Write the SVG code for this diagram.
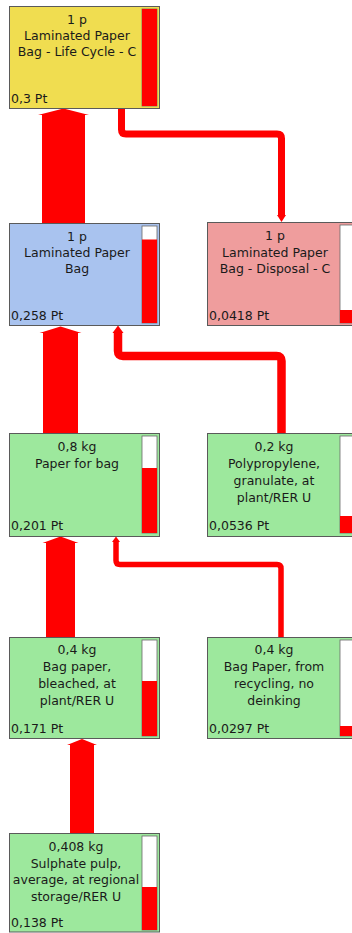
<svg xmlns="http://www.w3.org/2000/svg" width="352" height="933" viewBox="0 0 352 933">
  <style>
    .box { stroke: #5a5a5a; stroke-width: 1; }
    .life { fill: #f0dd50; }
    .assy { fill: #a9c3ef; }
    .disp { fill: #ef9d9d; }
    .proc { fill: #9de89d; }
    .bar { fill: #ffffff; stroke: #6a6a6a; stroke-width: 0.8; }
    .lvl { fill: #ff0000; }
    text { font-family: "DejaVu Sans", Verdana, sans-serif; font-size: 12.5px; fill: #1a1a1a; }
    .c { text-anchor: middle; }
    .flow { fill: #ff0000; }
    .link { fill: none; stroke: #ff0000; stroke-linejoin: round; }
  </style>

  <!-- connectors: thick flows sized by score, thin links with small heads -->
  <g id="connectors">
    <polygon class="flow" points="42,223 42,115 38,115 63.5,108.5 89,115 85,115 85,223"/>
    <polygon class="flow" points="43,433 43,333 39.5,333 60.5,326.5 81.5,333 78,333 78,433"/>
    <polygon class="flow" points="46,637 46,543 42.5,543 60.5,536.5 78.5,543 75,543 75,637"/>
    <polygon class="flow" points="70,833 70,745 67,745 82,739 97,745 94,745 94,833"/>

    <path class="link" stroke-width="7" d="M121.5,108 V129.5 Q121.5,134 126,134 H277 Q281.5,134 281.5,138.5 V216"/>
    <polygon class="flow" points="277,215 286,215 281.5,222"/>

    <path class="link" stroke-width="8.5" d="M281.5,433 V361 Q281.5,356 276.5,356 H123 Q118,356 118,351 V332"/>
    <polygon class="flow" points="112.5,333 123.5,333 118,325.5"/>

    <path class="link" stroke-width="5.5" d="M281,637 V568.5 Q281,564.5 277,564.5 H120 Q116,564.5 116,560.5 V541"/>
    <polygon class="flow" points="112,542 120,542 116,536.5"/>
  </g>

  <g id="life-cycle">
    <rect class="box life" x="9.5" y="6.5" width="150" height="102"/>
    <rect class="bar" x="142" y="9" width="15" height="97"/>
    <rect class="lvl" x="142" y="9" width="15" height="97"/>
    <text class="c" x="77" y="24">1 p</text>
    <text class="c" x="77" y="40">Laminated Paper</text>
    <text class="c" x="77" y="56">Bag - Life Cycle - C</text>
    <text x="11" y="103">0,3 Pt</text>
  </g>

  <g id="paper-bag">
    <rect class="box assy" x="9.5" y="223.5" width="150" height="102"/>
    <rect class="bar" x="142" y="226" width="15" height="97"/>
    <rect class="lvl" x="142" y="239.5" width="15" height="83.5"/>
    <text class="c" x="77" y="241">1 p</text>
    <text class="c" x="77" y="257">Laminated Paper</text>
    <text class="c" x="77" y="273">Bag</text>
    <text x="11" y="320">0,258 Pt</text>
  </g>

  <g id="disposal">
    <rect class="box disp" x="207.5" y="222.5" width="160" height="103"/>
    <rect class="bar" x="340" y="225" width="15" height="98"/>
    <rect class="lvl" x="340" y="310" width="15" height="13"/>
    <text class="c" x="275" y="240">1 p</text>
    <text class="c" x="275" y="257">Laminated Paper</text>
    <text class="c" x="275" y="273">Bag - Disposal - C</text>
    <text x="209" y="320">0,0418 Pt</text>
  </g>

  <g id="paper-for-bag">
    <rect class="box proc" x="9.5" y="433.5" width="150" height="103"/>
    <rect class="bar" x="142" y="436" width="15" height="97"/>
    <rect class="lvl" x="142" y="468" width="15" height="65"/>
    <text class="c" x="77" y="451">0,8 kg</text>
    <text class="c" x="77" y="468">Paper for bag</text>
    <text x="11" y="530">0,201 Pt</text>
  </g>

  <g id="polypropylene">
    <rect class="box proc" x="207.5" y="433.5" width="160" height="103"/>
    <rect class="bar" x="340" y="436" width="15" height="97"/>
    <rect class="lvl" x="340" y="516" width="15" height="17"/>
    <text class="c" x="274" y="451">0,2 kg</text>
    <text class="c" x="274" y="468">Polypropylene,</text>
    <text class="c" x="274" y="485">granulate, at</text>
    <text class="c" x="274" y="502">plant/RER U</text>
    <text x="209" y="530">0,0536 Pt</text>
  </g>

  <g id="bag-paper-bleached">
    <rect class="box proc" x="9.5" y="637.5" width="150" height="101"/>
    <rect class="bar" x="142" y="640" width="15" height="96"/>
    <rect class="lvl" x="142" y="681" width="15" height="55"/>
    <text class="c" x="77" y="654">0,4 kg</text>
    <text class="c" x="77" y="671">Bag paper,</text>
    <text class="c" x="77" y="688">bleached, at</text>
    <text class="c" x="77" y="705">plant/RER U</text>
    <text x="11" y="733">0,171 Pt</text>
  </g>

  <g id="bag-paper-recycling">
    <rect class="box proc" x="207.5" y="637.5" width="160" height="101"/>
    <rect class="bar" x="340" y="640" width="15" height="96"/>
    <rect class="lvl" x="340" y="726" width="15" height="10"/>
    <text class="c" x="274" y="654">0,4 kg</text>
    <text class="c" x="274" y="671">Bag Paper, from</text>
    <text class="c" x="274" y="688">recycling, no</text>
    <text class="c" x="274" y="705">deinking</text>
    <text x="209" y="733">0,0297 Pt</text>
  </g>

  <g id="sulphate-pulp">
    <rect class="box proc" x="9.5" y="833.5" width="150" height="98.5"/>
    <rect class="bar" x="142" y="836" width="15" height="94"/>
    <rect class="lvl" x="142" y="887" width="15" height="43"/>
    <text class="c" x="76" y="851">0,408 kg</text>
    <text class="c" x="76" y="868">Sulphate pulp,</text>
    <text class="c" x="76" y="884">average, at regional</text>
    <text class="c" x="76" y="901">storage/RER U</text>
    <text x="11" y="927">0,138 Pt</text>
  </g>
</svg>
